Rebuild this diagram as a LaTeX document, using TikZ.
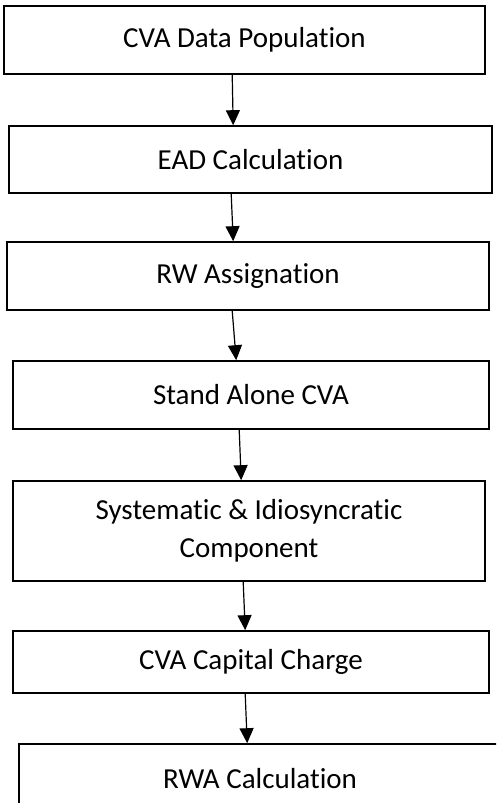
\documentclass[tikz,border=0pt]{standalone}
\usepackage{fontspec}
\setmainfont{Carlito}[Ligatures={NoCommon}]
\usetikzlibrary{arrows.meta,positioning}

\begin{document}
\begin{tikzpicture}[x=1pt, y=-1pt, line width=1.6pt]
   \clip (0,0) rectangle (496,803);
   \begin{scope}[every node/.style={rectangle,draw=black,fill=white,inner sep=0pt,align=center,font=\fontsize{29}{38}\selectfont}]
    \node (b1) at (244.5,40) [minimum width=481pt,minimum height=68pt] {CVA Data Population};
    \node (b2) at (250.5,159.5) [minimum width=483pt,minimum height=67pt] {EAD Calculation};
    \node (b3) at (248,276) [minimum width=482pt,minimum height=68pt] {RW Assignation};
    \node (b4) at (251,395) [minimum width=476pt,minimum height=68pt] {Stand Alone CVA};
    \node (b5) at (249,531) [minimum width=472pt,minimum height=100pt] {Systematic \& Idiosyncratic\\Component};
    \node (b6) at (251,662) [minimum width=476pt,minimum height=62pt] {CVA Capital Charge};
    \node (b7) at (260,779) [minimum width=482pt,minimum height=70pt] {RWA Calculation};
   \end{scope}
   \begin{scope}[every edge/.style={draw=black,line width=1.2pt,-{Triangle[length=15pt,width=14pt]}}]
    \draw ([xshift=229pt]b1.south west) edge ([xshift=225pt]b2.north west);
    \draw ([xshift=223pt]b2.south west) edge ([xshift=227pt]b3.north west);
    \draw ([xshift=226pt]b3.south west) edge ([xshift=224pt]b4.north west);
    \draw ([xshift=227pt]b4.south west) edge ([xshift=229pt]b5.north west);
    \draw ([xshift=231pt]b5.south west) edge ([xshift=233pt]b6.north west);
    \draw ([xshift=233pt]b6.south west) edge ([xshift=229pt]b7.north west);
   \end{scope}
\end{tikzpicture}
\end{document}
